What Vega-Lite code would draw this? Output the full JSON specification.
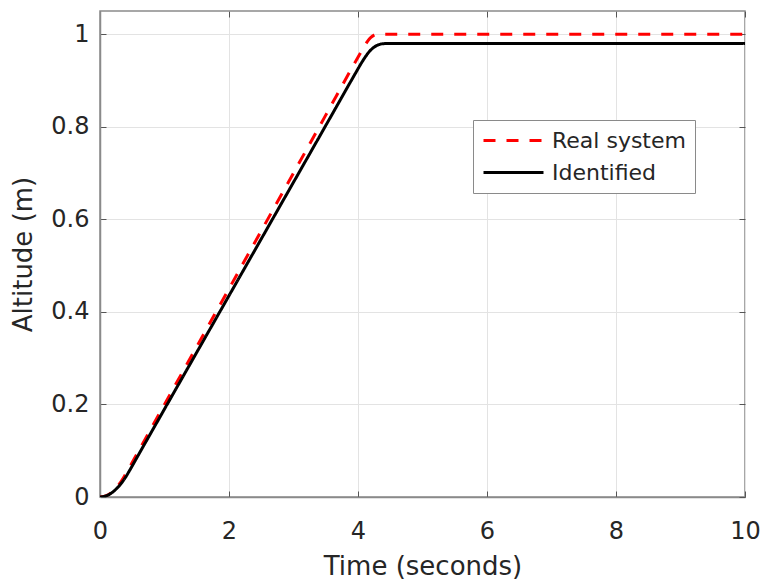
{
  "$schema": "https://vega.github.io/schema/vega-lite/v6.json",
  "width": 645,
  "height": 486,
  "autosize": {"type": "none"},
  "padding": {"left": 100, "top": 11, "right": 19, "bottom": 89},
  "background": "white",
  "config": {
    "font": "DejaVu Sans",
    "view": {"stroke": "#8a8a8a", "strokeWidth": 1.5},
    "axis": {
      "labelFont": "DejaVu Sans",
      "titleFont": "DejaVu Sans",
      "labelColor": "#262626",
      "titleColor": "#262626",
      "labelFontSize": 24,
      "titleFontSize": 26,
      "titleFontWeight": "normal",
      "labelFlush": false,
      "domainColor": "#8a8a8a",
      "domainWidth": 1.5,
      "tickColor": "#555555",
      "tickSize": -6,
      "tickWidth": 1,
      "gridColor": "#e3e3e3",
      "gridWidth": 1
    }
  },
  "datasets": {
    "curves": [
      {"t": 0, "alt": 0, "series": "Real system"},
      {"t": 0.1, "alt": 0.0031, "series": "Real system"},
      {"t": 0.2, "alt": 0.0125, "series": "Real system"},
      {"t": 0.3, "alt": 0.0281, "series": "Real system"},
      {"t": 0.4, "alt": 0.05, "series": "Real system"},
      {"t": 0.6, "alt": 0.1, "series": "Real system"},
      {"t": 1.0, "alt": 0.2, "series": "Real system"},
      {"t": 1.5, "alt": 0.325, "series": "Real system"},
      {"t": 2.0, "alt": 0.45, "series": "Real system"},
      {"t": 2.5, "alt": 0.575, "series": "Real system"},
      {"t": 3.0, "alt": 0.7, "series": "Real system"},
      {"t": 3.5, "alt": 0.825, "series": "Real system"},
      {"t": 4.0, "alt": 0.95, "series": "Real system"},
      {"t": 4.1, "alt": 0.974, "series": "Real system"},
      {"t": 4.15, "alt": 0.985, "series": "Real system"},
      {"t": 4.2, "alt": 0.993, "series": "Real system"},
      {"t": 4.25, "alt": 0.998, "series": "Real system"},
      {"t": 4.3, "alt": 1.0, "series": "Real system"},
      {"t": 6.0, "alt": 1.0, "series": "Real system"},
      {"t": 8.0, "alt": 1.0, "series": "Real system"},
      {"t": 10.0, "alt": 1.0, "series": "Real system"},
      {"t": 0, "alt": 0, "series": "Identified"},
      {"t": 0.1, "alt": 0.0027, "series": "Identified"},
      {"t": 0.2, "alt": 0.0109, "series": "Identified"},
      {"t": 0.3, "alt": 0.0245, "series": "Identified"},
      {"t": 0.4, "alt": 0.0435, "series": "Identified"},
      {"t": 0.45, "alt": 0.0552, "series": "Identified"},
      {"t": 0.6, "alt": 0.092, "series": "Identified"},
      {"t": 1.0, "alt": 0.19, "series": "Identified"},
      {"t": 1.5, "alt": 0.3125, "series": "Identified"},
      {"t": 2.0, "alt": 0.435, "series": "Identified"},
      {"t": 2.5, "alt": 0.5575, "series": "Identified"},
      {"t": 3.0, "alt": 0.68, "series": "Identified"},
      {"t": 3.5, "alt": 0.8025, "series": "Identified"},
      {"t": 4.0, "alt": 0.925, "series": "Identified"},
      {"t": 4.05, "alt": 0.937, "series": "Identified"},
      {"t": 4.1, "alt": 0.948, "series": "Identified"},
      {"t": 4.15, "alt": 0.958, "series": "Identified"},
      {"t": 4.2, "alt": 0.966, "series": "Identified"},
      {"t": 4.25, "alt": 0.972, "series": "Identified"},
      {"t": 4.3, "alt": 0.976, "series": "Identified"},
      {"t": 4.35, "alt": 0.9785, "series": "Identified"},
      {"t": 4.4, "alt": 0.9795, "series": "Identified"},
      {"t": 4.5, "alt": 0.98, "series": "Identified"},
      {"t": 6.0, "alt": 0.98, "series": "Identified"},
      {"t": 8.0, "alt": 0.98, "series": "Identified"},
      {"t": 10.0, "alt": 0.98, "series": "Identified"}
    ]
  },
  "data": {"name": "curves"},
  "resolve": {"axis": {"x": "independent", "y": "independent"}},
  "layer": [
    {
      "mark": {"type": "line", "strokeWidth": 3, "interpolate": "monotone", "clip": true},
      "encoding": {
        "x": {
          "field": "t", "type": "quantitative",
          "scale": {"domain": [0, 10], "nice": false},
          "axis": {"values": [0, 2, 4, 6, 8, 10], "title": "Time (seconds)", "labelPadding": 28, "titlePadding": 10, "grid": true}
        },
        "y": {
          "field": "alt", "type": "quantitative",
          "scale": {"domain": [0, 1.05], "nice": false},
          "axis": {"values": [0, 0.2, 0.4, 0.6, 0.8, 1], "format": "~g", "title": "Altitude (m)", "labelPadding": 17, "titlePadding": 14, "grid": true}
        },
        "color": {
          "field": "series", "type": "nominal",
          "scale": {"domain": ["Real system", "Identified"], "range": ["#ff0000", "#000000"]},
          "legend": {
            "orient": "none", "legendX": 373, "legendY": 109,
            "title": null,
            "symbolType": "M-1,0H5", "symbolSize": 400, "symbolStrokeWidth": 3,
            "labelFont": "DejaVu Sans", "labelFontSize": 22, "labelColor": "#262626",
            "labelOffset": 47, "rowPadding": 9,
            "padding": 9, "strokeColor": "#8a8a8a", "fillColor": "white",
            "cornerRadius": 0
          }
        },
        "strokeDash": {
          "field": "series", "type": "nominal",
          "scale": {"domain": ["Real system", "Identified"], "range": [[12, 11], [1, 0]]},
          "legend": {
            "orient": "none", "legendX": 373, "legendY": 109,
            "title": null,
            "symbolType": "M-1,0H5", "symbolSize": 400, "symbolStrokeWidth": 3,
            "labelFont": "DejaVu Sans", "labelFontSize": 22, "labelColor": "#262626",
            "labelOffset": 47, "rowPadding": 9,
            "padding": 9, "strokeColor": "#8a8a8a", "fillColor": "white",
            "cornerRadius": 0
          }
        },
        "order": {"field": "t", "type": "quantitative"}
      }
    },
    {
      "mark": {"type": "point", "opacity": 0},
      "encoding": {
        "x": {
          "field": "t", "type": "quantitative",
          "scale": {"domain": [0, 10], "nice": false},
          "axis": {"orient": "top", "values": [0, 2, 4, 6, 8, 10], "labels": false, "title": null, "domain": false, "grid": false}
        },
        "y": {
          "field": "alt", "type": "quantitative",
          "scale": {"domain": [0, 1.05], "nice": false},
          "axis": {"orient": "right", "values": [0, 0.2, 0.4, 0.6, 0.8, 1], "labels": false, "title": null, "domain": false, "grid": false}
        }
      }
    }
  ]
}
